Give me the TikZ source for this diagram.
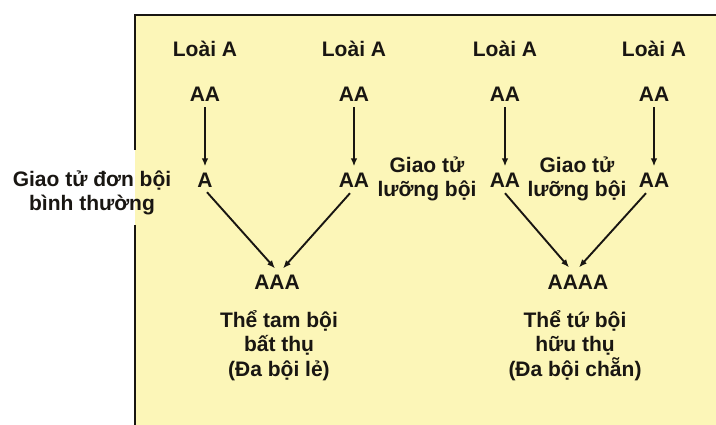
\documentclass[tikz,border=0pt]{standalone}
\usepackage{fontspec}
\setmainfont{Liberation Sans}
\usetikzlibrary{arrows.meta,calc}
\definecolor{boxyellow}{RGB}{252,246,184}
\definecolor{ink}{RGB}{25,22,18}
\begin{document}
\begin{tikzpicture}[x=1pt,y=-1pt,
  lbl/.style={anchor=base,inner sep=0pt,text=ink,font=\fontsize{21}{25}\selectfont\bfseries},
  arr/.style={draw=ink,line width=1.9pt,-{Latex[length=8pt,width=6.5pt]}}]
\useasboundingbox (0,0) rectangle (716,425);
\fill[boxyellow] (135,15) rectangle (716,425);
\draw[ink,line width=2pt] (716,15) -- (135,15) -- (135,150);
\draw[ink,line width=2pt] (135,225) -- (135,425);
% species
\node[lbl] (s1) at (205,57) {Loài A};
\node[lbl] (s2) at (354,57) {Loài A};
\node[lbl] (s3) at (505,57) {Loài A};
\node[lbl] (s4) at (654,57) {Loài A};
% parents
\node[lbl] (aa1) at (205,102) {AA};
\node[lbl] (aa2) at (354,102) {AA};
\node[lbl] (aa3) at (505,102) {AA};
\node[lbl] (aa4) at (654,102) {AA};
% gametes
\node[lbl] (g1) at (205,188) {A};
\node[lbl] (g2) at (354,188) {AA};
\node[lbl] (g3) at (505,188) {AA};
\node[lbl] (g4) at (654,188) {AA};
% gamete labels
\node[lbl] (t1a) at (92,187) {Giao tử đơn bội};
\node[lbl] (t1b) at (92,211) {bình thường};
\node[lbl] (t2a) at (427,173) {Giao tử};
\node[lbl] (t2b) at (427,197) {lưỡng bội};
\node[lbl] (t3a) at (577,173) {Giao tử};
\node[lbl] (t3b) at (577,197) {lưỡng bội};
% offspring
\node[lbl] (aaa) at (277,290) {AAA};
\node[lbl] (r1a) at (279,327) {Thể tam bội};
\node[lbl] (r1b) at (279,352) {bất thụ};
\node[lbl] (r1c) at (279,377) {(Đa bội lẻ)};
\node[lbl] (aaaa) at (578,290) {AAAA};
\node[lbl] (r2a) at (575,327) {Thể tứ bội};
\node[lbl] (r2b) at (575,352) {hữu thụ};
\node[lbl] (r2c) at (575,377) {(Đa bội chẵn)};
% vertical arrows
\foreach \p/\g in {aa1/g1,aa2/g2,aa3/g3,aa4/g4}
  \draw[arr,shorten <=5pt,shorten >=7pt] (\p.south) -- (\g.north);
% diagonal arrows
\draw[arr] ($(g1.south)+(2,4)$) -- ($(aaa.north)+(-2,-7)$);
\draw[arr] ($(g2.south)+(-4,5)$) -- ($(aaa.north)+(6,-7)$);
\draw[arr] ($(g3.south)+(0,5)$) -- ($(aaaa.north)+(-9,-8)$);
\draw[arr] ($(g4.south)+(-8,5)$) -- ($(aaaa.north)+(1,-8)$);
\end{tikzpicture}
\end{document}
